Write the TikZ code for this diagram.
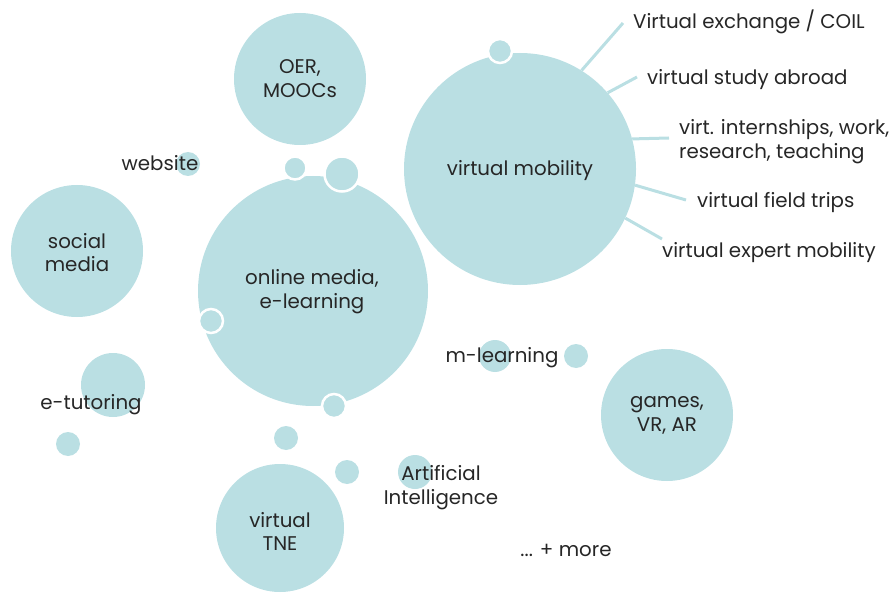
\documentclass[tikz,border=0pt]{standalone}
\usepackage{fontspec}
\setmainfont{Poppins}
\definecolor{bubble}{RGB}{186,223,227}
\definecolor{ink}{RGB}{38,38,38}
\begin{document}
\begin{tikzpicture}[x=1pt,y=-1pt,
  bub/.style={circle, fill=bubble, inner sep=0pt, minimum size=#1},
  ring/.style={circle, fill=bubble, draw=white, line width=2.5pt, inner sep=0pt, minimum size=#1},
  lbl/.style={text=ink, font=\fontsize{19.8}{23.5}\selectfont, align=center, inner sep=0pt, yshift=-2.5pt},
  spoke/.style={draw=bubble, line width=3pt}]
\useasboundingbox (0,0) rectangle (889,596);

% large bubbles
\node[bub=132] (oer) at (300,79) {};
\node[bub=232] (vm) at (520,169) {};
\node[bub=230] (om) at (313,291) {};
\node[bub=132] (sm) at (77,251) {};
\node[bub=132] (gm) at (667,415) {};
\node[bub=128] (tne) at (280,528) {};

% medium and small bubbles
\node[bub=64] (et) at (113,385) {};
\node[bub=24] (etdot) at (68,444) {};
\node[bub=24] (web) at (188,164) {};
\node[bub=32] (ml) at (495,356) {};
\node[bub=24] (mldot) at (576,356) {};
\node[bub=34] (ai) at (415,472) {};
\node[bub=24] (d1) at (286,438) {};
\node[bub=24] (d2) at (347,472) {};

% ringed bubbles sitting on the rims
\node[ring=23] (r1) at (295,168) {};
\node[ring=35] (r2) at (342,174) {};
\node[ring=24] (r3) at (211,321) {};
\node[ring=24] (r4) at (334,406) {};
\node[ring=24] (r5) at (500,51) {};

% spokes of virtual mobility
\coordinate (e1) at (623,23);
\coordinate (e2) at (637,77);
\coordinate (e3) at (669,138);
\coordinate (e4) at (686,200);
\coordinate (e5) at (662,239);
\draw[spoke] (vm.58.8) -- (e1);
\draw[spoke] (vm.41.9) -- (e2);
\draw[spoke] (vm.15.5) -- (e3);
\draw[spoke] (vm.-8.7) -- (e4);
\draw[spoke] (vm.-25.9) -- (e5);

% texts inside bubbles
\node[lbl] (toer) at (300,76) {OER,\\MOOCs};
\node[lbl] (tvm) at (520,168) {virtual mobility};
\node[lbl] (tom) at (312,289) {online media,\\e-learning};
\node[lbl] (tsm) at (77,250) {social\\media};
\node[lbl] (tgm) at (667,413) {games,\\VR, AR};
\node[lbl] (ttne) at (280,529) {virtual\\TNE};

% free labels
\node[lbl] (tweb) at (160,161) {website};
\node[lbl] (tet) at (91,402) {e-tutoring};
\node[lbl] (tml) at (502,355) {m-learning};
\node[lbl] (tai) at (441,485) {Artificial\\Intelligence};
\node[lbl] (tmore) at (566,548) {... + more};

% spoke labels
\node[lbl, anchor=west] (l1) at (633,19) {Virtual exchange / COIL};
\node[lbl, anchor=west] (l2) at (647,77) {virtual study abroad};
\node[lbl, anchor=west, align=left] (l3) at (679,139) {virt. internships, work,\\research, teaching};
\node[lbl, anchor=west] (l4) at (697,200) {virtual field trips};
\node[lbl, anchor=west] (l5) at (662,250) {virtual expert mobility};
\end{tikzpicture}
\end{document}
